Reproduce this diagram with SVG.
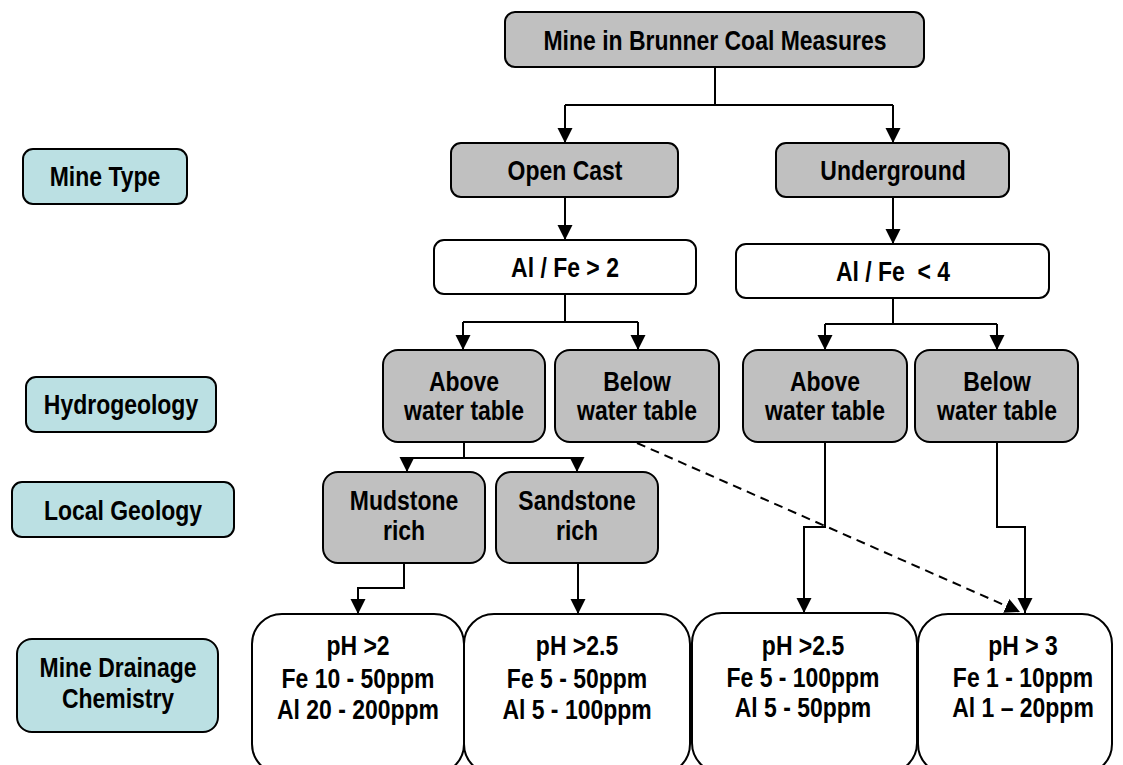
<svg xmlns="http://www.w3.org/2000/svg" width="1123" height="765" viewBox="0 0 1123 765">
<style>
text{font-family:'Liberation Sans',Arial,sans-serif;font-size:28px;font-weight:bold;fill:#000;text-anchor:middle}
.g{fill:#c0c0c0;stroke:#000;stroke-width:2}
.w{fill:#fff;stroke:#000;stroke-width:2}
.b{fill:#bbe0e3;stroke:#000;stroke-width:2}
.c{fill:none;stroke:#000;stroke-width:2}
.d{fill:none;stroke:#000;stroke-width:2;stroke-dasharray:9 6}
</style>
<defs>
<marker id="ah" markerUnits="userSpaceOnUse" markerWidth="18" markerHeight="18" refX="15" refY="7.5" orient="auto">
<path d="M0,0 L15,7.5 L0,15 Z" fill="#000"/>
</marker>
</defs>
<rect width="1123" height="765" fill="#fff"/>
<g id="connectors">
<path class="c" d="M715,67 V105 M565,105 H893" />
<path class="c" d="M565,105 V143" marker-end="url(#ah)"/>
<path class="c" d="M893,105 V143" marker-end="url(#ah)"/>
<path class="c" d="M565,197 V240" marker-end="url(#ah)"/>
<path class="c" d="M893,197 V244" marker-end="url(#ah)"/>
<path class="c" d="M565,294 V322 M463,322 H638"/>
<path class="c" d="M463,322 V350" marker-end="url(#ah)"/>
<path class="c" d="M638,322 V350" marker-end="url(#ah)"/>
<path class="c" d="M893,298 V324 M825,324 H997"/>
<path class="c" d="M825,324 V350" marker-end="url(#ah)"/>
<path class="c" d="M997,324 V350" marker-end="url(#ah)"/>
<path class="c" d="M464,442 V458 M407,458 H577"/>
<path class="c" d="M407,458 V472" marker-end="url(#ah)"/>
<path class="c" d="M577,458 V472" marker-end="url(#ah)"/>
<path class="c" d="M404,563 V588 H358 V614" marker-end="url(#ah)"/>
<path class="c" d="M578,563 V614" marker-end="url(#ah)"/>
<path class="c" d="M825,442 V527 H804 V613" marker-end="url(#ah)"/>
<path class="c" d="M997,442 V527 H1025 V613" marker-end="url(#ah)"/>
<path class="d" d="M637,443 L1020,612" marker-end="url(#ah)"/>
</g>
<g id="top"><rect class="g" x="505" y="12" width="419" height="55" rx="10"/><text transform="translate(715,50) scale(0.82,1)">Mine in Brunner Coal Measures</text></g>
<g id="opencast"><rect class="g" x="451" y="143" width="227" height="54" rx="10"/><text transform="translate(565,180) scale(0.82,1)">Open Cast</text></g>
<g id="underground"><rect class="g" x="776" y="143" width="233" height="54" rx="10"/><text transform="translate(893,180) scale(0.82,1)">Underground</text></g>
<g id="ratio-oc"><rect class="w" x="434" y="240" width="262" height="54" rx="10"/><text transform="translate(565,277) scale(0.82,1)">Al / Fe &gt; 2</text></g>
<g id="ratio-ug"><rect class="w" x="736" y="244" width="313" height="54" rx="10"/><text transform="translate(893,281) scale(0.82,1)">Al / Fe&#160; &lt; 4</text></g>
<g id="oc-above"><rect class="g" x="383" y="350" width="162" height="92" rx="15"/><text transform="translate(464,391) scale(0.82,1)">Above</text><text transform="translate(464,420) scale(0.82,1)">water table</text></g>
<g id="oc-below"><rect class="g" x="555" y="350" width="164" height="92" rx="15"/><text transform="translate(637,391) scale(0.82,1)">Below</text><text transform="translate(637,420) scale(0.82,1)">water table</text></g>
<g id="ug-above"><rect class="g" x="743" y="350" width="164" height="92" rx="15"/><text transform="translate(825,391) scale(0.82,1)">Above</text><text transform="translate(825,420) scale(0.82,1)">water table</text></g>
<g id="ug-below"><rect class="g" x="915" y="350" width="163" height="92" rx="15"/><text transform="translate(997,391) scale(0.82,1)">Below</text><text transform="translate(997,420) scale(0.82,1)">water table</text></g>
<g id="mudstone"><rect class="g" x="323" y="472" width="162" height="91" rx="15"/><text transform="translate(404,510) scale(0.82,1)">Mudstone</text><text transform="translate(404,540) scale(0.82,1)">rich</text></g>
<g id="sandstone"><rect class="g" x="496" y="472" width="162" height="91" rx="15"/><text transform="translate(577,510) scale(0.82,1)">Sandstone</text><text transform="translate(577,540) scale(0.82,1)">rich</text></g>
<g id="chem1"><rect class="w" x="252" y="614" width="212" height="160" rx="30"/><text transform="translate(358,655) scale(0.82,1)">pH &gt;2</text><text transform="translate(358,688) scale(0.82,1)">Fe 10 - 50ppm</text><text transform="translate(358,719) scale(0.82,1)">Al 20 - 200ppm</text></g>
<g id="chem2"><rect class="w" x="464" y="614" width="226" height="160" rx="30"/><text transform="translate(577,655) scale(0.82,1)">pH &gt;2.5</text><text transform="translate(577,688) scale(0.82,1)">Fe 5 - 50ppm</text><text transform="translate(577,719) scale(0.82,1)">Al 5 - 100ppm</text></g>
<g id="chem3"><rect class="w" x="692" y="613" width="225" height="160" rx="30"/><text transform="translate(803,655) scale(0.82,1)">pH &gt;2.5</text><text transform="translate(803,687) scale(0.82,1)">Fe 5 - 100ppm</text><text transform="translate(803,717) scale(0.82,1)">Al 5 - 50ppm</text></g>
<g id="chem4"><rect class="w" x="918" y="614" width="194" height="160" rx="30"/><text transform="translate(1023,655) scale(0.82,1)">pH &gt; 3</text><text transform="translate(1023,687) scale(0.82,1)">Fe 1 - 10ppm</text><text transform="translate(1023,717) scale(0.82,1)">Al 1 – 20ppm</text></g>
<g id="label-minetype"><rect class="b" x="23" y="149" width="164" height="55" rx="10"/><text transform="translate(105,186) scale(0.82,1)">Mine Type</text></g>
<g id="label-hydro"><rect class="b" x="26" y="377" width="190" height="55" rx="10"/><text transform="translate(121,414) scale(0.82,1)">Hydrogeology</text></g>
<g id="label-geology"><rect class="b" x="12" y="482" width="222" height="55" rx="10"/><text transform="translate(123,520) scale(0.82,1)">Local Geology</text></g>
<g id="label-chem"><rect class="b" x="17" y="639" width="201" height="93" rx="15"/><text transform="translate(118,677) scale(0.82,1)">Mine Drainage</text><text transform="translate(118,708) scale(0.82,1)">Chemistry</text></g>
</svg>
